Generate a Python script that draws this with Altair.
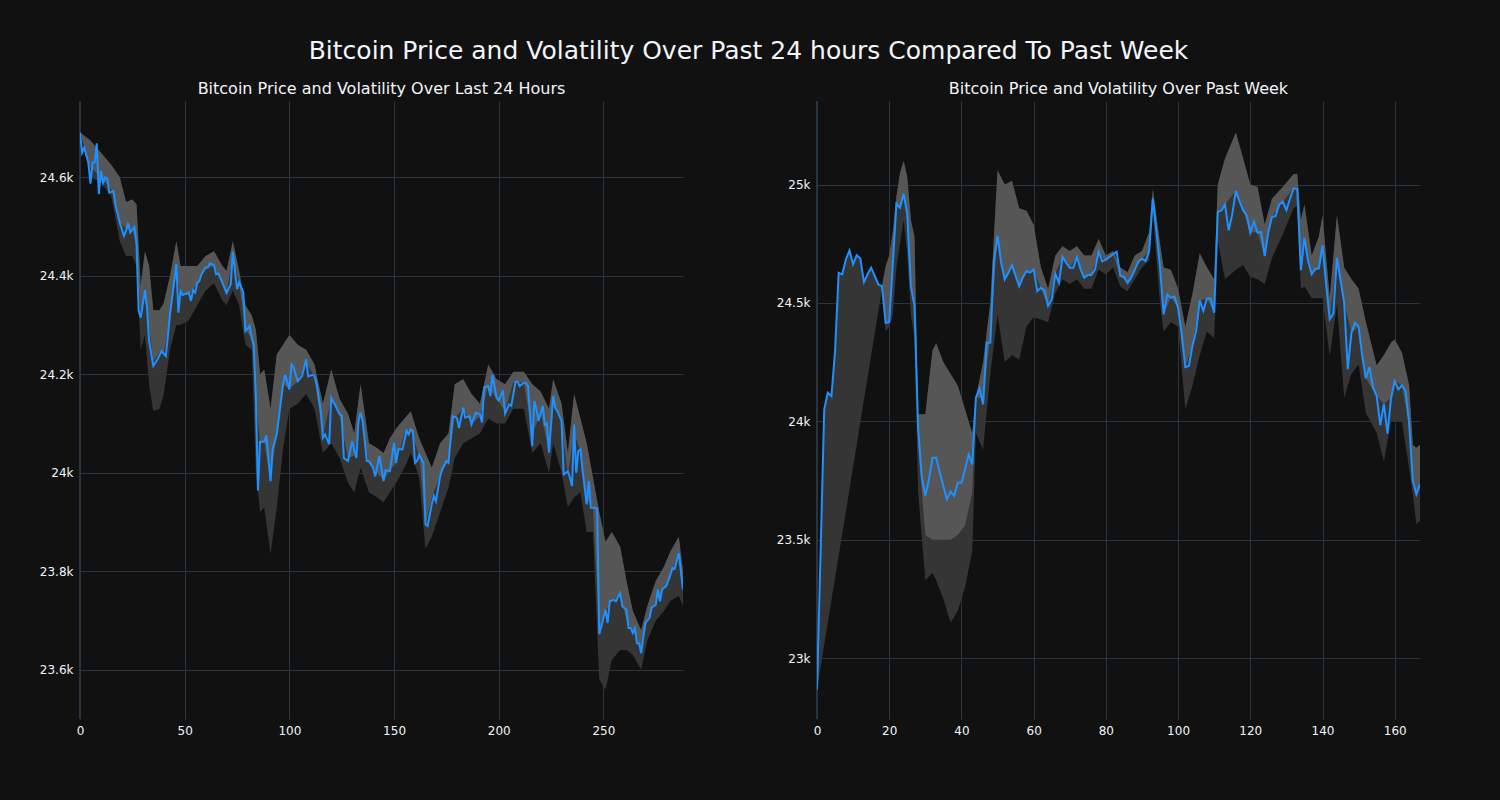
import altair as alt
import pandas as pd

# ---------------- data: last 24 hours (5-minute steps) ----------------
day_x = [0,1,2,4,5,6,7,8,9,10,11,12,13,14,16,17,19,21,22,23,24,26,27,28,29,30,31,32,33,35,37,39,41,43,46,47,48,49,52,53,54,55,56,57,58,60,61,62,64,65,66,68,70,72,73,75,76,78,79,81,82,83,84,85,86,88,89,91,92,94,96,97,98,100,101,102,104,106,108,109,111,112,113,115,116,117,119,120,122,124,125,126,128,129,130,132,133,134,135,137,138,140,141,143,145,146,148,150,151,152,154,156,157,158,159,160,161,162,164,165,166,168,169,170,172,173,175,176,178,180,181,183,184,186,187,189,191,192,193,195,196,197,199,200,202,203,205,206,208,209,210,212,213,214,216,217,218,219,221,222,223,224,226,227,228,230,231,233,234,235,236,237,238,239,240,242,243,244,246,247,248,249,251,252,253,255,256,258,259,261,262,263,264,265,266,267,268,270,272,273,275,276,277,278,280,282,283,284,286,287,288]
day_price = [24691,24650,24660,24630,24587,24630,24630,24669,24566,24613,24589,24600,24598,24569,24572,24542,24508,24481,24491,24508,24488,24499,24464,24329,24315,24342,24371,24335,24268,24217,24230,24247,24237,24322,24424,24325,24369,24361,24366,24349,24371,24366,24386,24389,24403,24417,24417,24425,24422,24403,24405,24386,24365,24383,24449,24373,24387,24366,24288,24298,24274,24260,24150,23964,24063,24063,24076,23983,24048,24078,24146,24180,24199,24169,24220,24214,24186,24196,24230,24196,24199,24196,24180,24125,24071,24078,24058,24152,24136,24119,24116,24030,24024,24044,24064,24030,24105,24122,24105,24024,24024,24010,23993,24034,23983,24005,24003,24061,24020,24048,24048,24085,24078,24088,24085,24020,24024,24037,24020,23895,23892,23936,23953,23942,23993,24007,24024,24020,24115,24112,24091,24132,24112,24115,24098,24122,24119,24102,24173,24176,24156,24199,24152,24147,24167,24120,24139,24136,24185,24185,24176,24183,24183,24176,24054,24146,24129,24105,24136,24098,24100,24041,24156,24132,24125,24105,23997,24003,23990,23973,24098,24000,24044,24048,24007,23936,23983,23929,23929,23926,23672,23688,23722,23695,23739,23742,23739,23756,23729,23722,23685,23685,23675,23685,23654,23654,23634,23695,23705,23726,23732,23763,23739,23763,23770,23793,23807,23805,23837,23800,23763]

day_band_x = [0,5,10,15,19,22,25,27,29,31,33,35,38,40,43,46,48,52,56,60,64,68,70,73,76,79,82,84,86,88,91,94,97,100,104,108,112,116,120,124,128,131,134,138,142,145,148,151,155,158,162,165,168,172,176,179,183,187,191,195,199,203,207,212,216,220,224,226,230,233,236,239,242,245,248,251,254,258,261,264,268,271,275,279,282,286,288]
day_band_hi = [24691,24675,24650,24625,24600,24550,24555,24545,24380,24450,24420,24330,24330,24345,24400,24470,24420,24420,24420,24440,24450,24420,24410,24470,24410,24340,24320,24290,24200,24210,24130,24240,24260,24280,24260,24250,24220,24140,24210,24150,24120,24080,24180,24060,24050,24040,24070,24090,24110,24125,24070,24040,24010,24060,24080,24180,24190,24160,24140,24220,24190,24180,24205,24205,24180,24165,24130,24190,24140,24040,24160,24110,24060,23990,23920,23860,23880,23850,23780,23720,23680,23730,23780,23810,23840,23870,23800]
day_band_mid = [24691,24620,24600,24575,24510,24495,24495,24460,24320,24370,24300,24225,24245,24240,24320,24400,24365,24360,24385,24415,24420,24385,24365,24440,24385,24290,24275,24150,24060,24063,23985,24080,24180,24170,24186,24225,24195,24075,24150,24115,24030,24035,24120,24020,24000,23985,24005,24020,24080,24085,24035,23895,23950,23995,24025,24112,24130,24100,24115,24176,24150,24125,24185,24183,24080,24120,24045,24150,24100,23995,24080,24045,23945,23930,23680,23720,23740,23750,23700,23680,23640,23700,23740,23765,23795,23835,23760]
day_band_lo = [24691,24600,24590,24560,24470,24440,24440,24420,24250,24280,24180,24125,24130,24160,24250,24300,24300,24310,24340,24370,24385,24350,24340,24370,24340,24260,24250,24000,23920,23930,23835,23930,24050,24130,24140,24160,24130,24040,24060,24030,23980,23960,24010,23960,23950,23940,23960,23980,24010,24040,23990,23845,23870,23920,23970,24030,24060,24070,24080,24110,24100,24100,24130,24130,24040,24060,24000,24060,24000,23930,23950,23960,23880,23880,23580,23560,23620,23640,23640,23630,23600,23660,23700,23720,23740,23750,23730]

# ---------------- data: past week (hourly steps) ----------------
week_x = list(range(0, 168))
week_price = [22868,23450,24051,24121,24107,24297,24628,24621,24684,24722,24663,24702,24688,24588,24621,24649,24614,24578,24571,24416,
              24419,24663,24919,24902,24961,24874,24571,24487,23973,23769,23685,23755,23846,23846,23783,23727,23671,23703,23685,23741,
              23741,23797,23860,23818,24100,24139,24072,24332,24332,24677,24783,24670,24600,24628,24659,24614,24571,24607,24635,24628,
              24642,24550,24564,24553,24487,24515,24624,24586,24695,24670,24649,24649,24694,24642,24607,24618,24618,24642,24716,24676,
              24684,24695,24705,24716,24614,24611,24585,24607,24640,24675,24687,24677,24719,24942,24804,24649,24452,24536,24522,24526,
              24480,24367,24229,24234,24320,24381,24511,24466,24519,24519,24459,24885,24891,24916,24807,24874,24973,24930,24892,24871,
              24797,24843,24797,24800,24698,24800,24863,24867,24916,24928,24892,24940,24984,24981,24638,24775,24677,24621,24646,24646,
              24744,24578,24431,24455,24691,24595,24501,24220,24374,24416,24400,24276,24182,24230,24142,24107,23984,24074,23948,24100,
              24170,24135,24152,24128,23990,23750,23692,23734]

week_band_x = [0,1,2,3,4,5,6,7,8,9,10,11,12,13,14,15,16,17,18,19,20,21,22,23,24,25,26,27,28,30,32,33,35,37,39,41,43,44,46,48,50,52,54,56,58,60,62,64,66,68,70,72,74,76,78,80,82,84,86,88,90,92,93,95,96,98,100,102,104,106,108,110,111,113,116,118,120,122,124,126,129,132,133,134,135,137,139,140,142,144,146,148,150,152,155,157,159,160,162,164,165,166,167]
week_band_hi = [22868,23450,24051,24121,24107,24297,24628,24621,24684,24722,24663,24702,24688,24588,24621,24649,24614,24578,24571,24654,24700,24800,24950,25050,25100,25030,24850,24780,24030,24030,24300,24330,24250,24200,24150,24050,23950,24100,24250,24500,25060,25000,25015,24900,24890,24830,24650,24560,24700,24740,24720,24740,24700,24700,24770,24700,24720,24650,24630,24700,24720,24800,24980,24750,24650,24640,24560,24400,24540,24710,24650,24600,25000,25110,25220,25110,25000,24990,24830,24940,24990,25045,25045,24850,24916,24700,24780,24870,24520,24870,24650,24600,24560,24420,24236,24280,24333,24346,24290,24150,23900,23889,23900]
week_band_mid = [22868,23450,24051,24121,24107,24297,24628,24621,24684,24722,24663,24702,24688,24588,24621,24649,24614,24578,24571,24416,24419,24663,24900,24910,24960,24874,24600,24490,23900,23520,23500,23500,23500,23500,23520,23560,23700,24100,24100,24360,24780,24600,24660,24571,24630,24640,24560,24487,24624,24695,24650,24694,24607,24618,24716,24674,24705,24614,24585,24640,24687,24719,24942,24649,24452,24522,24480,24229,24320,24511,24519,24459,24885,24916,24973,24892,24797,24800,24698,24863,24928,24984,24981,24638,24775,24621,24646,24744,24431,24691,24501,24374,24400,24182,24107,24074,24100,24170,24152,23990,23750,23692,23734]
week_band_lo = [22868,22962,23056,23150,23244,23338,23432,23526,23620,23714,23808,23902,23996,24090,24184,24278,24372,24466,24560,24380,24400,24450,24650,24750,24850,24700,24450,24350,23700,23330,23360,23330,23250,23150,23200,23300,23450,23950,23880,24200,24450,24250,24280,24260,24400,24440,24430,24420,24540,24600,24580,24600,24560,24560,24640,24620,24650,24570,24550,24600,24650,24680,24880,24500,24380,24420,24400,24050,24150,24280,24380,24350,24760,24600,24640,24660,24610,24600,24580,24690,24790,24900,24910,24560,24570,24520,24520,24520,24276,24495,24100,24200,24240,24036,23950,23830,24000,24000,24000,23800,23692,23565,23580]

# ---------------- styling ----------------
BG = "#111111"
GRID = "#283442"
TEXT = "#f2f5fa"
LINE = "#1e90ff"
DARK = "#353535"
LIGHT = "#565656"
FONT = "DejaVu Sans"

def panel(px, py, bx, bhi, bmid, blo, xdom, ydom, xticks, yticks, title):
    line_df = pd.DataFrame({"x": px, "price": py})
    band_df = pd.DataFrame({"x": bx, "hi": bhi, "mid": bmid, "lo": blo})
    xs = alt.Scale(domain=xdom, nice=False, zero=False)
    ys = alt.Scale(domain=ydom, nice=False, zero=False)
    xax = alt.Axis(values=xticks, format="d", grid=True, gridColor=GRID, gridWidth=1,
                   domain=False, ticks=False, tickSize=0, labelColor=TEXT, labelFontSize=12,
                   labelFont=FONT, labelPadding=6, labelFlush=False, title=None)
    yax = alt.Axis(values=yticks, format="~s", grid=True, gridColor=GRID, gridWidth=1,
                   domain=False, ticks=False, tickSize=0, labelColor=TEXT, labelFontSize=12,
                   labelFont=FONT, labelPadding=7, labelFlush=False, title=None,
                   minExtent=45, maxExtent=45)
    dark = alt.Chart(band_df).mark_area(color=DARK, opacity=1, clip=True).encode(
        x=alt.X("x:Q", scale=xs, axis=xax),
        y=alt.Y("lo:Q", scale=ys, axis=yax),
        y2="hi:Q",
    )
    light = alt.Chart(band_df).mark_area(color=LIGHT, opacity=1, clip=True).encode(
        x=alt.X("x:Q", scale=xs),
        y=alt.Y("mid:Q", scale=ys),
        y2="hi:Q",
    )
    zero = alt.Chart(pd.DataFrame({"z": [0]})).mark_rule(color=GRID, strokeWidth=2).encode(
        x=alt.datum(0, scale=xs)
    )
    line = alt.Chart(line_df).mark_line(color=LINE, strokeWidth=2, clip=True).encode(
        x=alt.X("x:Q", scale=xs),
        y=alt.Y("price:Q", scale=ys),
    )
    return alt.layer(zero, dark, light, line).properties(
        width=603, height=618,
        title=alt.TitleParams(title, fontSize=16, color=TEXT, font=FONT,
                              fontWeight="normal", anchor="middle", offset=3),
    )

left = panel(day_x, day_price, day_band_x, day_band_hi, day_band_mid, day_band_lo,
             [0, 288], [23500, 24755], [0, 50, 100, 150, 200, 250],
             [23600, 23800, 24000, 24200, 24400, 24600],
             "Bitcoin Price and Volatility Over Last 24 Hours")
right = panel(week_x, week_price, week_band_x, week_band_hi, week_band_mid, week_band_lo,
              [0, 167], [22743, 25353], [0, 20, 40, 60, 80, 100, 120, 140, 160],
              [23000, 23500, 24000, 24500, 25000],
              "Bitcoin Price and Volatility Over Past Week")

chart = alt.hconcat(left, right, spacing=89).properties(
    title=alt.TitleParams("Bitcoin Price and Volatility Over Past 24 hours Compared To Past Week",
                          fontSize=25, color=TEXT, font=FONT, fontWeight="normal",
                          anchor="middle", offset=17, dx=21),
    background=BG,
    padding={"left": 35, "top": 39, "right": 80, "bottom": 64},
).configure_view(stroke=None, fill=BG)

chart.save("out.html", embed_options={"renderer": "svg", "actions": False})
